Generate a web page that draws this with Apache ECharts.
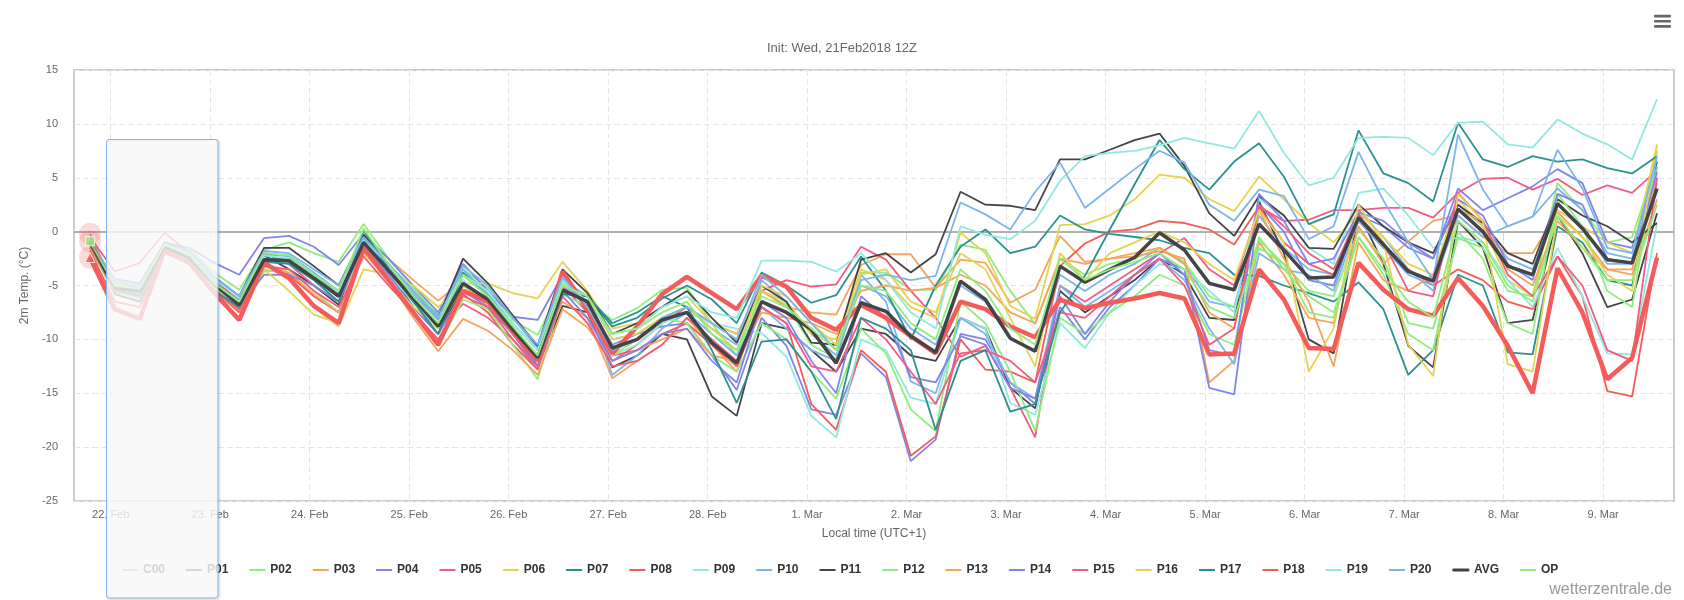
<!DOCTYPE html>
<html>
<head>
  <meta charset="utf-8">
  <title>GFS Ensemble 2m Temp.</title>
  <script src="https://cdn.jsdelivr.net/npm/echarts@6/dist/echarts.min.js"></script>
  <style>
    html, body { margin: 0; padding: 0; background: #fff; }
    #main { width: 1684px; height: 600px; }
  </style>
</head>
<body>
  <div id="main"></div>

  <script>
    // hours since 22 Feb 00:00 local time (UTC+1), 6-hourly steps
    const hours = [-5, 1, 7, 13, 19, 25, 31, 37, 43, 49, 55, 61, 67, 73, 79, 85,
      91, 97, 103, 109, 115, 121, 127, 133, 139, 145, 151, 157, 163, 169, 175, 181,
      187, 193, 199, 205, 211, 217, 223, 229, 235, 241, 247, 253, 259, 265, 271, 277,
      283, 289, 295, 301, 307, 313, 319, 325, 331, 337, 343, 349, 355, 361, 367, 373];

    const tickHours = [0, 24, 48, 72, 96, 120, 144, 168, 192, 216, 240, 264, 288, 312, 336, 360];
    const tickLabels = ['22. Feb', '23. Feb', '24. Feb', '25. Feb', '26. Feb', '27. Feb', '28. Feb',
      '1. Mar', '2. Mar', '3. Mar', '4. Mar', '5. Mar', '6. Mar', '7. Mar', '8. Mar', '9. Mar'];

    const C00 = [-0.2, -5.2, -5.8, -1.2, -2.2, -4.6, -6.3, -2.0, -2.3, -4.0, -5.8, -0.6, -3.2, -5.8, -8.2, -3.8,
      -5.5, -8.0, -10.8, -4.5, -6.0, -10.0, -9.5, -8.0, -7.0, -9.0, -10.5, -4.5, -6.5, -9.5, -11.5, -5.0,
      -6.0, -9.0, -10.5, -5.0, -6.5, -10.0, -11.0, -4.0, -5.5, -4.0, -3.0, -1.5, -3.0, -6.5, -7.0, 1.5,
      -1.5, -3.5, -4.0, 2.0, -0.5, -3.5, -5.5, 2.5, 0.5, -2.5, -3.5, 2.5, 0.5, -3.0, -3.0, 4.5];
    const P01 = [-1.2, -5.8, -6.5, -1.6, -2.0, -5.2, -7.0, -2.2, -3.5, -5.0, -6.8, -0.8, -3.8, -7.0, -9.5, -5.0,
      -6.5, -9.5, -12.5, -6.9, -7.5, -12.6, -11.5, -9.5, -10.0, -15.3, -17.1, -8.5, -9.0, -11.0, -13.0, -9.0,
      -9.5, -11.5, -12.0, -8.0, -9.0, -14.5, -16.4, -5.5, -7.5, -6.0, -4.5, -2.5, -4.0, -8.0, -8.2, 2.8,
      -2.0, -10.0, -11.3, 1.8, -3.0, -10.6, -12.6, 1.0, -1.5, -8.5, -8.2, 1.5, -2.0, -7.0, -6.3, 1.7];
    const P02 = [-0.9, -4.6, -5.0, -1.0, -1.6, -3.8, -5.4, -1.7, -1.0, -2.0, -2.8, 0.7, -2.5, -5.2, -7.8, -3.5,
      -5.2, -8.2, -9.6, -4.8, -6.5, -8.2, -7.1, -5.4, -5.2, -8.5, -11.5, -5.5, -6.8, -10.5, -11.8, -3.8,
      -3.8, -5.4, -5.4, -1.2, -1.7, -5.5, -8.6, -2.5, -4.0, -3.0, -2.5, -1.5, -2.8, -6.0, -7.0, -0.8,
      -3.0, -5.5, -6.0, 0.2, -2.5, -8.5, -9.0, -0.6, -1.5, -5.5, -6.0, 4.5, 2.0, -1.0, -0.5, 6.5];
    const P03 = [-1.0, -4.8, -5.2, -1.3, -2.5, -5.0, -6.8, -2.5, -2.8, -4.5, -6.0, -0.5, -2.5, -4.5, -6.4, -4.5,
      -7.0, -9.0, -11.5, -6.5, -8.0, -13.6, -12.0, -10.5, -8.0, -10.5, -13.0, -5.5, -7.0, -7.5, -7.7, -3.1,
      -2.1, -2.1, -5.2, -2.6, -2.9, -6.6, -5.4, -0.4, -2.8, -2.5, -2.3, -1.8, -2.5, -14.0, -12.0, -1.0,
      -4.0, -8.0, -8.5, 0.5, -3.0, -0.9, 1.0, 1.5, -0.5, -2.0, -2.0, 1.8, -0.5, -3.5, -4.0, 3.0];
    const P04 = [-1.0, -4.4, -4.8, -1.1, -1.5, -2.9, -4.0, -0.6, -0.4, -1.4, -3.1, -0.2, -2.5, -5.0, -7.5, -3.0,
      -5.5, -7.9, -8.2, -4.0, -6.8, -10.5, -9.5, -8.8, -8.5, -11.5, -14.7, -8.0, -10.6, -16.5, -17.0, -11.3,
      -13.5, -21.3, -19.3, -9.5, -10.0, -14.0, -16.0, -7.0, -10.0, -7.0, -5.0, -2.5, -3.5, -14.5, -15.1, 2.5,
      0.0, -4.5, -5.0, 1.5, 0.5, -1.5, -2.5, 4.0, 2.0, 3.1, 4.2, 5.8, 4.5, -1.0, -1.5, 6.0];
    const P05 = [-0.5, -3.7, -2.9, -0.1, -2.0, -4.5, -6.5, -2.0, -3.0, -5.0, -6.5, -1.0, -4.0, -6.5, -9.0, -6.7,
      -8.0, -10.0, -12.5, -5.0, -7.5, -12.0, -10.5, -8.5, -7.0, -8.5, -9.5, -5.5, -4.5, -5.1, -4.9, -1.4,
      -2.6, -5.5, -8.0, -11.6, -10.6, -14.5, -19.1, -5.0, -6.5, -5.0, -3.5, -2.0, -0.6, -3.5, -5.0, 2.3,
      1.0, 1.1, 2.0, 2.0, 2.2, 2.2, 1.3, 3.6, 4.9, 5.0, 3.9, 4.9, 3.4, 4.3, 3.6, 5.7];
    const P06 = [-0.9, -4.8, -5.0, -1.6, -3.0, -5.0, -7.0, -3.5, -4.0, -7.0, -8.8, -3.5, -4.0, -5.0, -7.0, -4.8,
      -4.8, -5.7, -6.2, -2.8, -5.5, -9.0, -8.5, -7.0, -6.0, -8.5, -9.5, -5.5, -6.5, -9.5, -10.0, -3.5,
      -4.5, -7.0, -8.0, -0.1, -2.0, -6.9, -8.1, 0.6, 0.7, 1.5, 3.0, 5.3, 5.0, 3.0, 1.9, 5.1,
      3.0, 0.8, -1.0, 1.8, -0.5, -3.0, -4.0, 3.0, 0.5, -4.5, -6.0, 2.0, 0.5, -1.0, -2.0, 8.1];
    const P07 = [-1.5, -5.6, -6.0, -1.5, -2.5, -5.0, -6.5, -2.5, -2.5, -4.0, -5.5, -0.5, -3.5, -6.5, -9.0, -4.0,
      -6.0, -9.0, -11.5, -5.5, -6.0, -8.8, -8.0, -6.2, -5.0, -6.3, -8.5, -3.8, -5.0, -6.6, -5.9, -2.3,
      -5.5, -10.0, -5.0, -1.4, 0.2, -2.0, -1.4, 1.5, 0.2, -0.2, -0.5, -0.8, -1.5, -2.0, -4.0, -4.1,
      -5.0, -5.7, -6.5, -4.7, -7.2, -13.3, -11.0, -4.0, -5.0, -11.2, -11.4, 0.5, -1.0, -4.5, -5.0, 6.5];
    const P08 = [-1.8, -6.5, -7.0, -1.8, -3.0, -5.5, -7.5, -3.0, -4.0, -6.0, -7.5, -1.5, -4.5, -7.5, -10.5, -5.8,
      -7.5, -10.5, -12.8, -4.0, -7.0, -11.5, -11.0, -9.5, -8.5, -10.5, -12.5, -7.0, -8.5, -16.0, -18.4, -11.0,
      -13.0, -20.8, -19.0, -10.0, -12.8, -13.0, -14.0, -3.2, -1.1, 0.0, 0.2, 1.0, 0.8, 0.2, -1.2, 2.3,
      -1.0, -3.0, -4.0, 1.0, -1.5, -3.5, -5.0, -3.5, -4.5, -6.5, -7.2, -2.3, -6.0, -14.8, -15.3, -2.0];
    const P09 = [-1.0, -5.0, -5.5, -1.5, -2.5, -5.0, -6.5, -2.5, -3.0, -4.5, -6.5, -1.0, -4.0, -6.5, -9.0, -4.5,
      -6.5, -9.5, -12.0, -4.5, -7.0, -11.5, -10.5, -8.5, -7.5, -8.5, -9.0, -9.4, -11.6, -17.1, -19.1, -10.0,
      -11.0, -15.4, -16.0, -8.0, -9.0, -15.9, -17.0, -8.5, -10.8, -7.5, -5.0, -3.0, -3.5, -5.5, -7.5, 3.0,
      1.5, -1.5, -3.0, 3.6, 4.0, 1.5, -1.5, -0.5, -1.0, -4.5, -7.0, -1.5, -6.0, -11.3, -11.4, 0.7];
    const P10 = [-1.0, -5.0, -5.6, -1.3, -2.3, -4.8, -6.5, -2.2, -2.2, -3.8, -5.5, -0.8, -3.5, -6.0, -7.7, -3.5,
      -5.8, -8.5, -11.0, -5.0, -6.5, -13.3, -11.5, -9.0, -7.5, -9.5, -11.5, -7.0, -9.0, -11.0, -12.0, -4.0,
      -6.5, -13.9, -15.0, -8.0, -9.5, -14.0, -15.5, -5.0, -7.0, -5.5, -4.0, -2.5, -4.5, -9.0, -12.3, -2.0,
      -3.5, -4.0, -5.5, 1.0, -1.5, -4.0, -5.0, 1.5, -0.5, 0.5, 1.4, 4.0, 2.0, -2.0, -2.5, 6.0];
    const P11 = [-0.8, -4.5, -5.0, -1.0, -1.8, -4.2, -6.0, -1.5, -1.5, -3.2, -5.0, -0.3, -3.0, -5.5, -8.0, -2.5,
      -4.8, -7.8, -10.6, -3.5, -5.7, -9.5, -8.5, -7.0, -5.5, -8.0, -10.3, -5.0, -6.5, -10.3, -10.5, -2.6,
      -2.0, -3.8, -2.1, 3.7, 2.5, 2.4, 2.0, 6.7, 6.7, 7.6, 8.5, 9.1, 6.1, 1.7, -0.4, 3.3,
      1.5, -1.5, -1.6, 2.5, 0.5, -1.0, -2.0, 2.5, 0.8, -2.0, -3.0, 3.0, 1.5, 0.5, -1.0, 0.8];
    const P12 = [-1.5, -5.6, -6.2, -1.8, -2.8, -5.5, -7.2, -3.7, -3.5, -5.5, -7.5, -1.8, -4.5, -7.5, -10.6, -6.3,
      -7.2, -10.5, -13.7, -5.8, -7.0, -11.5, -10.0, -8.0, -8.5, -11.5, -13.0, -8.5, -10.0, -13.0, -15.5, -9.0,
      -11.3, -16.5, -18.5, -6.5, -8.5, -13.0, -18.5, -8.0, -9.5, -7.5, -6.0, -4.0, -5.0, -9.5, -10.5, -0.5,
      -3.5, -6.0, -7.5, -0.5, -4.0, -9.5, -11.0, 0.0, -2.5, -8.5, -9.5, 3.5, 0.5, -5.5, -7.0, 7.5];
    const P13 = [-1.3, -5.5, -6.0, -1.5, -2.8, -5.4, -7.3, -3.2, -3.8, -5.8, -7.5, -1.3, -4.5, -8.0, -11.1, -8.1,
      -9.2, -11.0, -13.3, -7.2, -8.9, -12.0, -11.0, -10.0, -9.0, -11.5, -12.0, -7.5, -8.0, -8.5, -9.5, -5.5,
      -5.0, -5.5, -5.2, -4.0, -5.0, -7.5, -8.5, -2.5, -3.0, -2.5, -2.0, -1.5, -3.0, -7.5, -9.0, 2.0,
      -2.5, -6.5, -12.5, -1.0, -4.5, -5.5, -4.0, 2.0, 1.0, -3.5, -5.0, 1.0, -1.5, -3.5, -3.5, 5.0];
    const P14 = [-1.1, -5.3, -5.8, -1.5, -2.6, -5.2, -7.0, -4.0, -4.0, -5.0, -6.5, -1.2, -4.0, -7.0, -9.5, -5.5,
      -7.0, -9.5, -12.5, -5.5, -8.0, -12.0, -11.0, -9.5, -9.0, -12.0, -14.0, -6.5, -8.0, -12.0, -15.0, -6.0,
      -8.0, -13.5, -14.0, -9.7, -10.5, -14.5, -15.5, -6.0, -9.5, -6.5, -4.0, -2.0, -4.0, -11.0, -11.5, 3.5,
      1.0, -3.0, -2.5, 1.8, 1.0, -1.0, -2.5, 3.0, 1.5, -3.0, -4.5, 3.5, 2.5, -2.5, -3.0, 5.5];
    const P15 = [-1.3, -5.5, -6.0, -2.0, -3.0, -5.5, -7.2, -3.2, -3.5, -5.5, -7.0, -2.3, -5.0, -7.5, -10.0, -6.0,
      -7.0, -10.0, -12.8, -6.0, -8.5, -12.5, -12.0, -10.5, -8.0, -10.0, -12.0, -7.0, -8.5, -12.5, -13.0, -8.0,
      -10.0, -13.0, -16.0, -11.3, -11.0, -12.0, -14.0, -7.5, -8.0, -6.0, -4.0, -2.5, -5.0, -10.5, -9.0, 2.5,
      0.5, -2.0, -3.5, 1.5, -1.0, -5.5, -6.0, 3.6, 1.0, -4.0, -6.0, -2.3, -5.0, -11.0, -12.0, 5.0];
    const P16 = [-1.0, -5.0, -5.5, -1.3, -3.0, -5.2, -6.8, -3.5, -5.5, -7.7, -8.5, -2.0, -4.5, -7.0, -9.0, -5.0,
      -6.5, -9.5, -12.0, -5.0, -6.0, -10.0, -9.5, -8.0, -7.0, -9.0, -11.0, -5.0, -6.0, -8.5, -10.5, -4.0,
      -3.5, -6.5, -7.5, -2.0, -3.5, -8.0, -12.5, -2.0, -4.5, -2.0, -1.0, 0.0, -1.0, -3.0, -4.5, 2.0,
      -1.0, -13.0, -9.0, 2.5, -1.0, -10.5, -13.4, 3.5, 1.0, -12.3, -13.0, 1.5, -0.5, -4.0, -5.5, 8.0];
    const P17 = [-1.2, -5.3, -6.0, -1.7, -2.8, -5.5, -7.0, -2.8, -3.0, -4.5, -6.5, 0.2, -3.5, -6.5, -9.5, -3.8,
      -6.0, -9.5, -11.8, -5.8, -6.0, -8.5, -7.5, -6.0, -7.0, -11.0, -15.9, -10.2, -10.0, -13.0, -17.4, -8.0,
      -9.0, -11.0, -18.4, -12.0, -11.0, -16.7, -16.0, -7.5, -4.1, 0.2, 4.4, 8.5, 5.8, 3.9, 6.5, 8.2,
      5.1, 0.7, 1.6, 9.4, 5.4, 4.5, 2.8, 10.1, 6.7, 6.0, 7.0, 6.5, 6.7, 5.9, 5.4, 7.0];
    const P18 = [-2.4, -7.2, -8.1, -1.7, -2.9, -5.7, -8.2, -2.9, -4.3, -6.9, -8.5, -1.5, -4.5, -7.5, -10.5, -5.5,
      -6.5, -9.3, -12.0, -3.7, -7.2, -11.3, -8.8, -5.8, -4.2, -5.7, -7.2, -4.1, -5.1, -8.0, -9.1, -6.8,
      -8.0, -9.7, -11.3, -6.5, -7.2, -8.8, -9.8, -6.3, -7.1, -6.6, -6.2, -5.7, -6.2, -11.4, -11.3, -3.5,
      -6.3, -10.8, -10.9, -2.9, -5.4, -7.2, -7.8, -4.3, -6.9, -10.6, -15.0, -3.4, -7.5, -13.7, -11.7, -2.4];
    const P19 = [-0.8, -4.5, -5.0, -1.2, -2.0, -4.5, -6.0, -2.2, -2.5, -4.0, -5.5, -0.8, -3.0, -5.5, -8.0, -4.0,
      -5.5, -8.5, -11.0, -4.5, -6.5, -9.5, -9.0, -7.0, -6.0, -7.5, -8.0, -2.7, -2.7, -2.8, -3.7, -2.0,
      -4.5, -7.5, -9.0, 0.5, -0.3, -0.7, 1.0, 4.7, 7.0, 7.3, 7.5, 8.0, 8.7, 8.2, 7.7, 11.2,
      7.3, 4.3, 5.0, 8.7, 8.8, 8.7, 7.1, 10.1, 10.2, 8.1, 7.8, 10.4, 9.1, 8.1, 6.7, 12.3];
    const P20 = [-0.9, -4.6, -5.2, -1.1, -1.8, -4.2, -6.0, -1.8, -2.0, -3.5, -5.0, -0.5, -3.0, -5.5, -8.0, -3.2,
      -5.0, -8.0, -10.5, -4.2, -7.0, -11.0, -10.0, -8.0, -7.0, -8.5, -10.0, -4.0, -6.0, -8.5, -11.0, -4.5,
      -4.0, -4.5, -4.1, 2.7, 1.6, 0.2, 3.7, 6.4, 2.2, 4.0, 5.8, 7.5, 6.4, 2.5, 1.0, 3.9,
      3.3, -0.7, 0.5, 7.4, 2.9, -1.0, -4.5, 9.0, 3.9, 0.5, 1.4, 7.6, 4.0, -1.5, -2.0, 7.0];
    const AVG = [-1.0, -5.2, -5.5, -1.4, -2.4, -4.9, -6.8, -2.6, -2.7, -4.3, -6.0, -1.0, -3.6, -6.2, -8.8, -4.8,
      -6.3, -9.1, -11.7, -5.4, -6.5, -10.8, -10.0, -8.2, -7.5, -10.3, -12.2, -6.5, -7.5, -9.1, -12.2, -6.6,
      -7.4, -9.7, -11.2, -4.6, -6.3, -9.9, -11.1, -3.2, -4.7, -3.5, -2.4, -0.1, -1.7, -4.8, -5.4, 0.7,
      -1.7, -4.3, -4.2, 1.3, -1.2, -3.7, -4.6, 2.1, 0.0, -3.2, -4.0, 2.6, 0.3, -2.6, -2.9, 4.0];
    const OP = [-0.9, -5.0, -5.3, -1.2, -2.2, -4.8, -6.5, -2.0, -2.2, -4.0, -5.5, 0.3, -3.0, -6.0, -8.5, -4.0,
      -6.0, -8.8, -11.5, -5.0, -6.0, -9.5, -9.0, -7.5, -6.5, -9.5, -11.0, -6.0, -7.0, -9.0, -11.0, -5.0,
      -5.5, -8.5, -10.0, -3.5, -5.5, -9.0, -10.5, -2.5, -4.5, -3.5, -2.8, -2.0, -3.5, -7.0, -8.0, -1.5,
      -3.0, -7.5, -8.0, -0.5, -3.5, -6.5, -8.0, 1.0, -1.0, -5.0, -6.5, 1.5, -1.5, -4.5, -4.5, 2.5];

    const names = ['C00', 'P01', 'P02', 'P03', 'P04', 'P05', 'P06', 'P07', 'P08', 'P09', 'P10',
      'P11', 'P12', 'P13', 'P14', 'P15', 'P16', 'P17', 'P18', 'P19', 'P20', 'AVG', 'OP'];
    const values = [C00, P01, P02, P03, P04, P05, P06, P07, P08, P09, P10,
      P11, P12, P13, P14, P15, P16, P17, P18, P19, P20, AVG, OP];
    const palette = ['#7cb5ec', '#434348', '#90ed7d', '#f7a35c', '#8085e9',
      '#f15c80', '#e4d354', '#2b908f', '#f45b5b', '#91e8e1'];

    const font = '"Liberation Sans", Arial, Helvetica, sans-serif';

    function colorOf(k) {
      if (names[k] === 'AVG') return '#434348';
      if (names[k] === 'OP') return '#90ed7d';
      return palette[k % 10];
    }
    function widthOf(name) {
      if (name === 'AVG') return 3.5;
      if (name === 'P18') return 4.5; // highlighted member
      return 1.8;
    }

    const series = names.map((name, k) => ({
      name: name,
      type: 'line',
      data: hours.map((h, i) => [h, values[k][i]]),
      symbol: 'none',
      showSymbol: false,
      silent: true,
      color: colorOf(k),
      lineStyle: { width: widthOf(name), color: colorOf(k) },
      emphasis: { disabled: true },
      z: 3
    }));

    // zero line
    series[0].markLine = {
      silent: true,
      symbol: ['none', 'none'],
      label: { show: false },
      lineStyle: { color: '#b0b0b0', width: 2, type: 'solid' },
      data: [{ yAxis: 0 }],
      z: 2
    };

    // hover halo and markers on the first time step
    const t0 = hours[0];
    series.push({
      type: 'scatter',
      silent: true,
      symbol: 'circle',
      symbolSize: 22,
      itemStyle: { color: 'rgba(244,91,91,0.28)' },
      data: [[t0, C00[0]], [t0, OP[0]], [t0, P18[0]]],
      z: 5
    });
    series.push({
      type: 'scatter',
      silent: true,
      data: [
        { value: [t0, OP[0]], symbol: 'rect', symbolSize: 9, itemStyle: { color: '#90ed7d', borderColor: '#fff', borderWidth: 1 } },
        { value: [t0, P18[0]], symbol: 'triangle', symbolSize: 10, itemStyle: { color: '#f45b5b', borderColor: '#fff', borderWidth: 1 } }
      ],
      z: 6
    });

    const chart = echarts.init(document.getElementById('main'));
    chart.setOption({
      animation: false,
      textStyle: { fontFamily: font },
      title: {
        text: 'Init: Wed, 21Feb2018 12Z',
        left: 'center',
        top: 37,
        textStyle: { fontSize: 13, fontWeight: 'normal', color: '#666666', fontFamily: font }
      },
      grid: {
        left: 74, right: 10, top: 70, bottom: 99,
        show: true,
        borderColor: '#cccccc',
        borderWidth: 2
      },
      legend: {
        data: names.map(n => n === 'AVG'
          ? { name: n, itemStyle: { borderWidth: 1, borderColor: '#434348' } }
          : n),
        left: 117,
        top: 559,
        icon: 'rect',
        itemWidth: 16,
        itemHeight: 2,
        itemGap: 21,
        selectedMode: false,
        itemStyle: { borderWidth: 0 },
        textStyle: { fontSize: 12, fontWeight: 'bold', color: '#333333', fontFamily: font }
      },
      xAxis: {
        type: 'value',
        min: -8.85,
        max: 377.1,
        name: 'Local time (UTC+1)',
        nameLocation: 'middle',
        nameGap: 27,
        nameTextStyle: { fontSize: 12, color: '#666666', fontFamily: font },
        axisLine: { show: false },
        axisTick: {
          show: true,
          length: 9,
          customValues: tickHours,
          lineStyle: { color: '#ccd6eb' }
        },
        axisLabel: {
          customValues: tickHours,
          margin: 8,
          fontSize: 11,
          color: '#666666',
          formatter: v => tickLabels[tickHours.indexOf(v)] || ''
        },
        splitLine: {
          show: true,
          lineStyle: { color: '#e6e6e6', type: [6, 3], width: 1 }
        }
      },
      yAxis: {
        type: 'value',
        min: -25,
        max: 15,
        interval: 5,
        name: '2m Temp. (°C)',
        nameLocation: 'middle',
        nameGap: 43,
        nameTextStyle: { fontSize: 12, color: '#666666', fontFamily: font },
        axisLine: { show: false },
        axisTick: { show: false },
        axisLabel: { fontSize: 11, color: '#666666', margin: 16 },
        splitLine: { lineStyle: { color: '#e6e6e6', type: [6, 3], width: 1 } }
      },
      graphic: [
        // shadow of the hover box, stroked only so it does not darken the box
        {
          type: 'rect',
          z: 99,
          silent: true,
          shape: { x: 107.5, y: 140.5, width: 111.5, height: 458.5, r: 3 },
          style: { fill: null, stroke: 'rgba(0,0,0,0.10)', lineWidth: 3 }
        },
        {
          type: 'rect',
          z: 100,
          silent: true,
          shape: { x: 106.5, y: 139.5, width: 111.5, height: 458.5, r: 3 },
          style: {
            fill: 'rgba(248,248,248,0.82)',
            stroke: '#7cb5ec',
            lineWidth: 1
          }
        },
        { type: 'rect', z: 100, silent: true, shape: { x: 1654, y: 14.8, width: 17, height: 2.6, r: 1 }, style: { fill: '#666666' } },
        { type: 'rect', z: 100, silent: true, shape: { x: 1654, y: 20, width: 17, height: 2.6, r: 1 }, style: { fill: '#666666' } },
        { type: 'rect', z: 100, silent: true, shape: { x: 1654, y: 25.1, width: 17, height: 2.6, r: 1 }, style: { fill: '#666666' } },
        {
          type: 'text',
          z: 100,
          silent: true,
          x: 1672,
          y: 590,
          style: {
            text: 'wetterzentrale.de',
            fill: '#999999',
            font: '16px ' + font,
            textAlign: 'right',
            textVerticalAlign: 'middle'
          }
        }
      ],
      series: series
    });
  </script>
</body>
</html>
